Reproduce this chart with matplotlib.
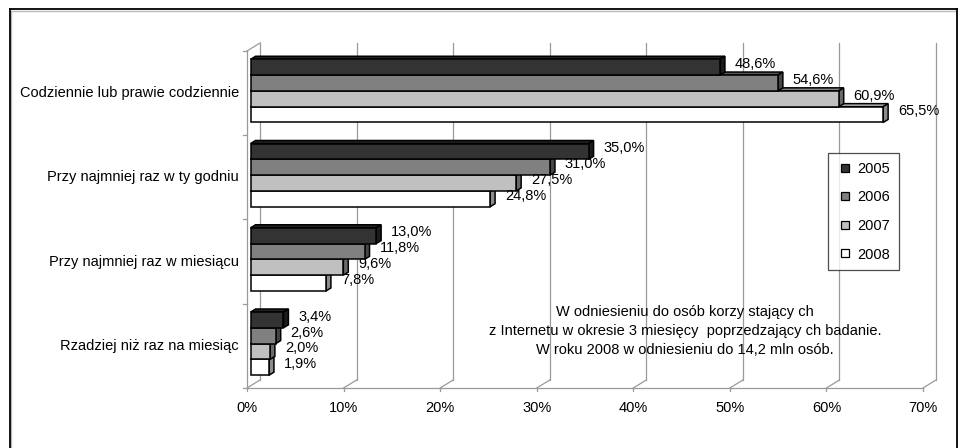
import matplotlib
matplotlib.use("Agg")
import matplotlib.pyplot as plt
from matplotlib.patches import Polygon, Rectangle
from matplotlib.lines import Line2D
import matplotlib.transforms as mtransforms

plt.rcParams["font.family"] = ["Liberation Sans", "DejaVu Sans"]

# ---- data -------------------------------------------------------------
categories = [
    "Codziennie lub prawie codziennie",
    "Przy najmniej raz w ty godniu",
    "Przy najmniej raz w miesiącu",
    "Rzadziej niż raz na miesiąc",
]
years = ["2005", "2006", "2007", "2008"]
v2005 = [48.6, 35.0, 13.0, 3.4]
v2006 = [54.6, 31.0, 11.8, 2.6]
v2007 = [60.9, 27.5, 9.6, 2.0]
v2008 = [65.5, 24.8, 7.8, 1.9]
x_ticks = [0, 10, 20, 30, 40, 50, 60, 70]
x_tick_labels = ["0%", "10%", "20%", "30%", "40%", "50%", "60%", "70%"]
note_lines = [
    "W odniesieniu do osób korzy stający ch",
    "z Internetu w okresie 3 miesięcy  poprzedzający ch badanie.",
    "W roku 2008 w odniesieniu do 14,2 mln osób.",
]

series = [v2005, v2006, v2007, v2008]
face_colors = ["#333333", "#808080", "#c0c0c0", "#ffffff"]
FS = 10.5


def shade(hex_color, k):
    r, g, b = (int(hex_color[i:i + 2], 16) for i in (1, 3, 5))
    return "#%02x%02x%02x" % (int(r * k), int(g * k), int(b * k))


# ---- figure / axes (front plane of the 3-D box) ------------------------
W, H = 960, 448
fig = plt.figure(figsize=(W / 100, H / 100), dpi=100)
fig.patch.set_facecolor("white")

px_left, px_right, px_bottom, px_top = 247, 923, 388, 51
ax = fig.add_axes([px_left / W, (H - px_bottom) / H,
                   (px_right - px_left) / W, (px_bottom - px_top) / H])
ax.set_xlim(0, 70)
ax.set_ylim(0, len(categories))
ax.axis("off")

# depth vector of the 3-D box, in data units
px_per_x = (px_right - px_left) / 70.0
px_per_y = (px_bottom - px_top) / len(categories)
DX = 13.0 / px_per_x
DY = 8.0 / px_per_y
F1, F2 = 0.28, 0.66          # bar depth range (fraction of box depth)
n_cat = len(categories)

grid_col = "#9a9a9a"
grid_lw = 0.9

# back wall gridlines + floor diagonals + front floor ticks
for v in x_ticks:
    ax.add_line(Line2D([v + DX, v + DX], [DY, n_cat + DY], color=grid_col,
                       lw=grid_lw, zorder=1, clip_on=False))
    ax.add_line(Line2D([v, v + DX], [0, DY], color=grid_col, lw=grid_lw,
                       zorder=1, clip_on=False))
    ax.add_line(Line2D([v, v], [0, -3.0 / px_per_y], color=grid_col,
                       lw=grid_lw, zorder=1, clip_on=False))
# front floor edge
ax.add_line(Line2D([0, 70], [0, 0], color=grid_col, lw=grid_lw, zorder=1,
                   clip_on=False))
# left wall front edge, top edge, category ticks
ax.add_line(Line2D([0, 0], [0, n_cat], color=grid_col, lw=grid_lw, zorder=1,
                   clip_on=False))
ax.add_line(Line2D([0, DX], [n_cat, n_cat + DY], color=grid_col, lw=grid_lw,
                   zorder=1, clip_on=False))
for k in range(n_cat + 1):
    ax.add_line(Line2D([-4.0 / px_per_x, 0], [k, k], color=grid_col,
                       lw=grid_lw, zorder=1, clip_on=False))

# ---- 3-D bars ---------------------------------------------------------
bar_h = 0.1875
ddx = (F2 - F1) * DX
ddy = (F2 - F1) * DY
s1x, s1y = F1 * DX, F1 * DY
lab_tr = mtransforms.offset_copy(ax.transData, fig=fig, x=10, y=0,
                                 units="dots")

for i, cat in enumerate(categories):
    c = n_cat - i - 0.5
    for j in range(len(series) - 1, -1, -1):
        v = series[j][i]
        col = face_colors[j]
        top = c + 2 * bar_h - j * bar_h + s1y
        bot = top - bar_h
        x0 = s1x
        x1 = v + s1x
        z = 5 + (len(series) - j)
        front = Rectangle((x0, bot), v, bar_h, facecolor=col,
                          edgecolor="black", lw=1.1, zorder=z,
                          clip_on=False, joinstyle="miter")
        topf = Polygon([(x0, top), (x1, top), (x1 + ddx, top + ddy),
                        (x0 + ddx, top + ddy)], closed=True,
                       facecolor=shade(col, 0.7), edgecolor="black", lw=1.1,
                       zorder=z, clip_on=False, joinstyle="miter")
        side = Polygon([(x1, bot), (x1, top), (x1 + ddx, top + ddy),
                        (x1 + ddx, bot + ddy)], closed=True,
                       facecolor=shade(col, 0.55), edgecolor="black", lw=1.1,
                       zorder=z, clip_on=False, joinstyle="miter")
        ax.add_patch(topf)
        ax.add_patch(side)
        ax.add_patch(front)
        label = ("%.1f" % v).replace(".", ",") + "%"
        ax.text(x1 + ddx, (top + bot) / 2 + ddy * 0.5 + 0.02, label,
                transform=lab_tr, ha="left", va="center", fontsize=FS,
                color="black", zorder=20, clip_on=False)

# ---- category and tick labels ------------------------------------------
cat_tr = mtransforms.offset_copy(ax.transData, fig=fig, x=-8, y=0,
                                 units="dots")
for i, cat in enumerate(categories):
    ax.text(0, n_cat - i - 0.5, cat, transform=cat_tr, ha="right",
            va="center", fontsize=FS, color="black")

tick_tr = mtransforms.offset_copy(ax.transData, fig=fig, x=0, y=-20,
                                  units="dots")
for v, t in zip(x_ticks, x_tick_labels):
    ax.text(v, 0, t, transform=tick_tr, ha="center", va="center",
            fontsize=FS, color="black")

# ---- note text ----------------------------------------------------------
fig.text(685 / W, 1 - 331 / H, "\n".join(note_lines), ha="center",
         va="center", multialignment="center", fontsize=FS,
         linespacing=1.43, color="black")

# ---- legend -----------------------------------------------------------
handles = [Line2D([], [], linestyle="none", marker="s", markersize=5.8,
                  markerfacecolor=face_colors[j], markeredgecolor="black",
                  markeredgewidth=0.9) for j in range(len(years))]
leg = fig.legend(handles, years, loc="upper left",
                 bbox_to_anchor=(828 / W, 1 - 153 / H), frameon=True,
                 fancybox=False, fontsize=FS, handlelength=1.15,
                 handletextpad=0.25, labelspacing=1.0, borderpad=0.6,
                 borderaxespad=0.0)
leg.get_frame().set_edgecolor("#222222")
leg.get_frame().set_linewidth(0.9)
leg.set_zorder(30)

# ---- outer frame ------------------------------------------------------
def fx(p):
    return p / W


def fy(p):
    return 1 - p / H


fig.add_artist(Line2D([fx(11), fx(11)], [fy(11), fy(460)], color="#bbbbbb",
                      lw=1.0, transform=fig.transFigure))
fig.add_artist(Line2D([fx(11), fx(955)], [fy(11), fy(11)], color="#bbbbbb",
                      lw=1.0, transform=fig.transFigure))
fig.add_artist(Line2D([fx(9.5), fx(9.5)], [fy(9.5), fy(460)], color="black",
                      lw=1.3, transform=fig.transFigure))
fig.add_artist(Line2D([fx(9.5), fx(957)], [fy(9.5), fy(9.5)], color="black",
                      lw=1.3, transform=fig.transFigure))
fig.add_artist(Line2D([fx(957), fx(957)], [fy(9.5), fy(460)], color="black",
                      lw=1.3, transform=fig.transFigure))

fig.savefig("out.png", dpi=100, facecolor="white")
